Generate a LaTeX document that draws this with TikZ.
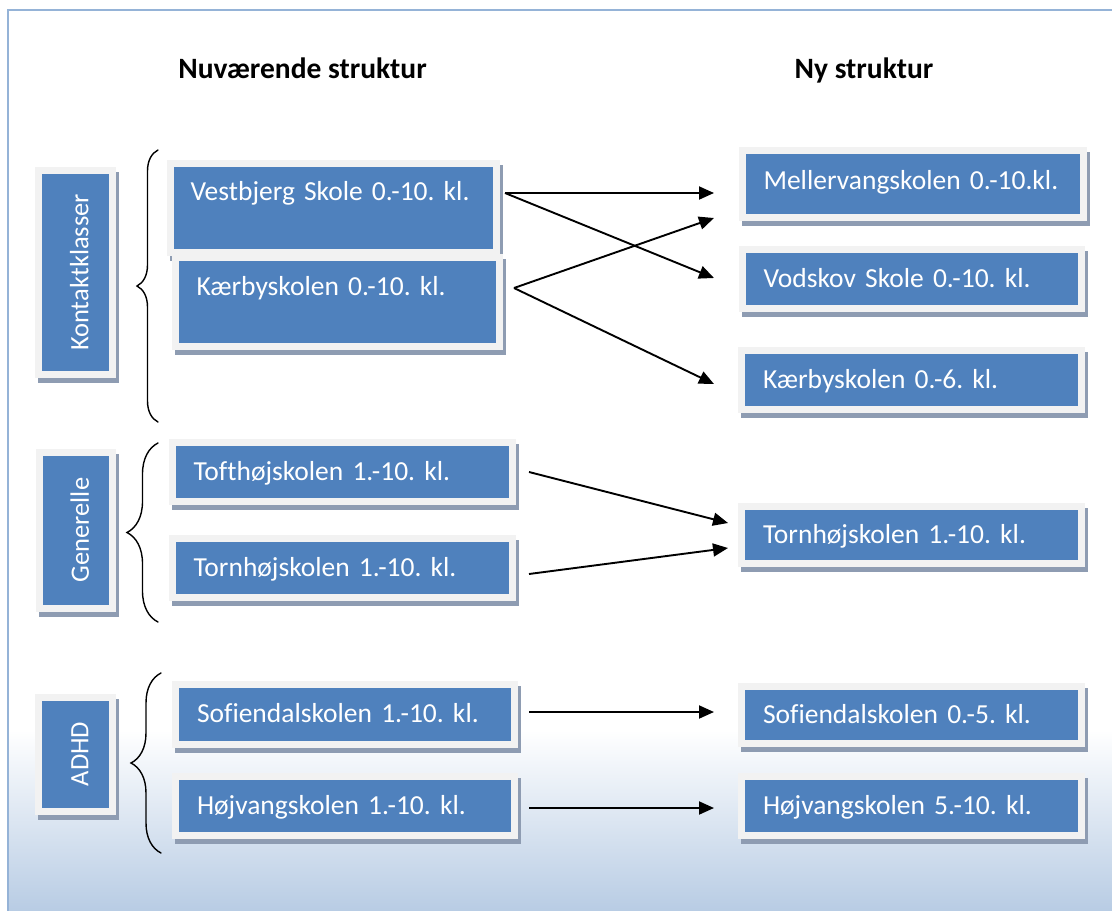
\documentclass[tikz,border=0pt]{standalone}
\usepackage{fontspec}
\setmainfont{Carlito}[Ligatures=NoCommon]
\usetikzlibrary{arrows.meta,decorations.pathreplacing}

\definecolor{boxblue}{RGB}{79,129,189}
\definecolor{boxframe}{RGB}{242,242,242}
\definecolor{shadowcol}{RGB}{142,156,178}
\definecolor{framecol}{RGB}{149,179,215}
\definecolor{bgblue}{RGB}{184,204,228}

\tikzset{
  schoolbox/.style={fill=boxblue, draw=boxframe, line width=7pt, text=white,
    font=\fontsize{27.5}{33}\selectfont\frenchspacing, align=left, inner xsep=21.5pt, inner ysep=0pt,
    text height=17.5pt, text depth=0pt,
    preaction={draw=shadowcol, fill=shadowcol, line width=7pt, transform canvas={shift={(3,5)}}}},
  tallbox/.style={text depth=31pt},
  grouplabel/.style={schoolbox, rotate=90, align=center, inner xsep=0pt, text height=25.5pt,
    font=\fontsize{26.5}{32}\selectfont},
  arrow/.style={-{Triangle[length=15pt,width=13pt]}, line width=1.9pt},
  groupbrace/.style={decorate, line width=1.4pt, line cap=round},
  heading/.style={font=\fontsize{29.5}{35}\selectfont\bfseries, text height=18.6pt, text depth=0pt}
}

\begin{document}
\begin{tikzpicture}[x=1pt,y=-1pt]
  \useasboundingbox (0,0) rectangle (1112,911);
  % background and frame
  \fill[white] (0,0) rectangle (1112,911);
  \shade[top color=white, bottom color=bgblue] (9,730) rectangle (1112,911);
  \draw[framecol, line width=2pt] (8,915) -- (8,10) -- (1116,10);

  % headings
  \node[heading] (nowtitle) at (302.5,69) {Nuværende struktur};
  \node[heading] (newtitle) at (864,69) {Ny struktur};

  % group labels
  \node[grouplabel, minimum width=204pt, minimum height=74pt] (kontakt) at (75.5,272.5) {Kontaktklasser};
  \node[grouplabel, minimum width=156pt, minimum height=73pt] (generelle) at (76,530) {Generelle};
  \node[grouplabel, minimum width=114pt, minimum height=74pt] (adhd) at (75.5,754) {ADHD};

  % braces
  \draw[groupbrace, decoration={brace, amplitude=21pt}] (158,422) -- (158,150);
  \draw[groupbrace, decoration={brace, amplitude=31pt}] (158,622) -- (158,443);
  \draw[groupbrace, decoration={brace, amplitude=30pt}] (161,853) -- (161,673);

  % current schools
  \node[schoolbox, tallbox, minimum height=89pt, text width=285pt, inner xsep=20.5pt] (vestbjerg) at (333,207.5) {Vestbjerg Skole 0.-10. kl.};
  \node[schoolbox, tallbox, minimum height=89pt, text width=281pt] (kaerby) at (337,302) {Kærbyskolen 0.-10. kl.};
  \node[schoolbox, minimum height=59pt, text width=297pt] (tofthoj) at (342,472) {Tofthøjskolen 1.-10. kl.};
  \node[schoolbox, minimum height=59.5pt, text width=297pt] (tornhoj) at (342,568) {Tornhøjskolen 1.-10. kl.};
  \node[schoolbox, minimum height=60pt, text width=296pt] (sofiendal) at (345,714) {Sofiendalskolen 1.-10. kl.};
  \node[schoolbox, minimum height=59pt, text width=296pt] (hojvang) at (345,806) {Højvangskolen 1.-10. kl.};

  % new schools
  \node[schoolbox, minimum height=67pt, text width=298.5pt, text depth=7pt] (mellervang) at (912.75,184) {Mellervangskolen 0.-10.kl.};
  \node[schoolbox, minimum height=58.5pt, text width=296.5pt] (vodskov) at (911.75,278.75) {Vodskov Skole 0.-10. kl.};
  \node[schoolbox, minimum height=59.5pt, text width=297pt] (kaerbyny) at (911.5,380) {Kærbyskolen 0.-6. kl.};
  \node[schoolbox, minimum height=57.5pt, text width=297pt] (tornhojny) at (911.5,535) {Tornhøjskolen 1.-10. kl.};
  \node[schoolbox, minimum height=57.5pt, text width=297pt] (sofiendalny) at (911.5,715) {Sofiendalskolen 0.-5. kl.};
  \node[schoolbox, minimum height=59.5pt, text width=297pt] (hojvangny) at (911.5,806) {Højvangskolen 5.-10. kl.};

  % arrow ends
  \coordinate (vestbjerg-out) at (505,193);
  \coordinate (kaerby-out) at (514,288);
  \coordinate (tofthoj-out) at (529,472);
  \coordinate (tornhoj-out) at (529,574);
  \coordinate (sofiendal-out) at (529,712);
  \coordinate (hojvang-out) at (529,808);
  \coordinate (mellervang-in) at (714,193);
  \coordinate (mellervang-in2) at (714,218);
  \coordinate (vodskov-in) at (714,278);
  \coordinate (kaerbyny-in) at (714,384);
  \coordinate (tornhojny-in) at (728,523);
  \coordinate (tornhojny-in2) at (728,548);
  \coordinate (sofiendalny-in) at (714,712);
  \coordinate (hojvangny-in) at (714,808);

  % arrows
  \draw[arrow] (vestbjerg-out) -- (mellervang-in);
  \draw[arrow] (vestbjerg-out) -- (vodskov-in);
  \draw[arrow] (kaerby-out) -- (mellervang-in2);
  \draw[arrow] (kaerby-out) -- (kaerbyny-in);
  \draw[arrow] (tofthoj-out) -- (tornhojny-in);
  \draw[arrow] (tornhoj-out) -- (tornhojny-in2);
  \draw[arrow] (sofiendal-out) -- (sofiendalny-in);
  \draw[arrow] (hojvang-out) -- (hojvangny-in);
\end{tikzpicture}
\end{document}
